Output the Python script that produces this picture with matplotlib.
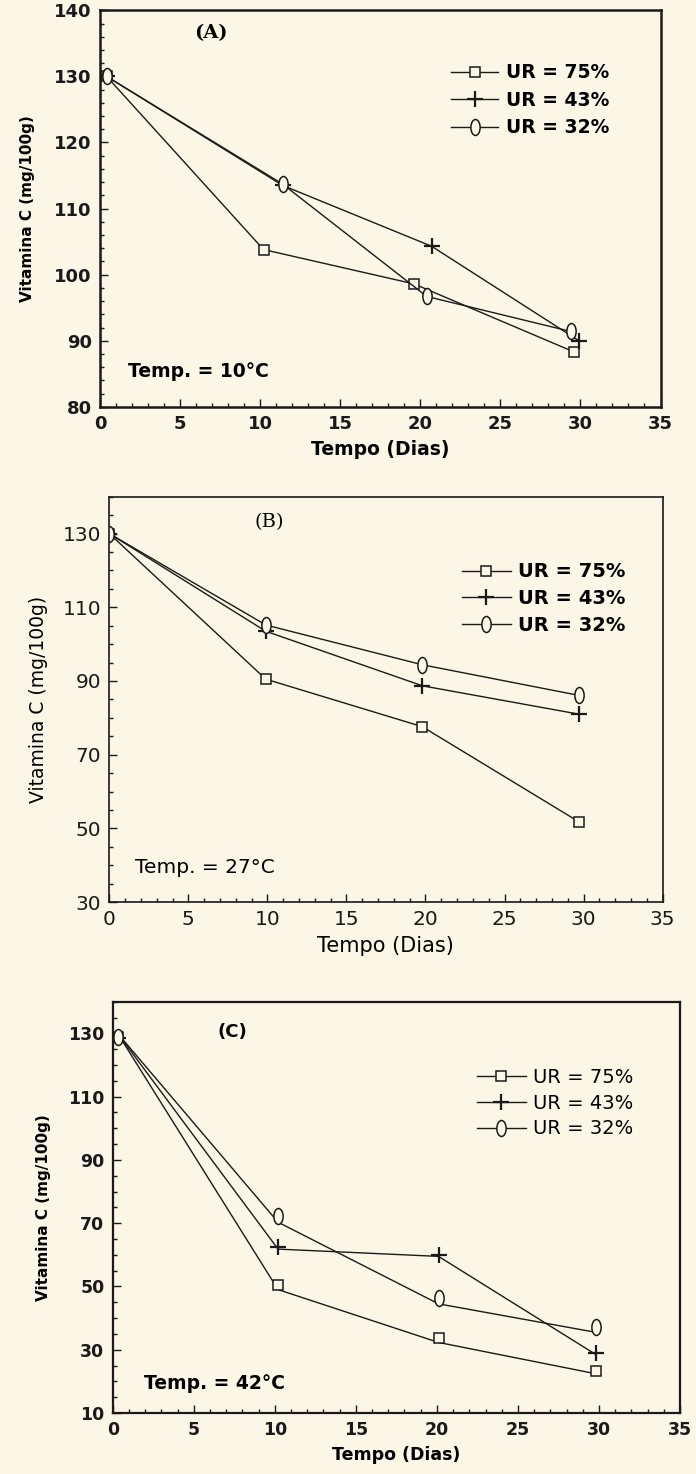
import matplotlib
matplotlib.use("Agg")
import matplotlib.pyplot as plt
from matplotlib.path import Path
from matplotlib.transforms import Affine2D
from matplotlib.ticker import MultipleLocator

# painel A - 10 C
dias_a_75 = [0.4, 10.2, 19.6, 29.6]
vitc_a_75 = [130, 103.8, 98.6, 88.3]
dias_a_43 = [0.4, 11.4, 20.7, 29.9]
vitc_a_43 = [130, 113.5, 104.3, 90.0]
dias_a_32 = [0.4, 11.4, 20.4, 29.4]
vitc_a_32 = [130, 113.7, 96.7, 91.4]

# painel B - 27 C
dias_b = [0, 9.9, 19.8, 29.7]
vitc_b_75 = [130, 90.5, 77.6, 51.8]
vitc_b_43 = [130, 103.5, 88.7, 81.0]
vitc_b_32 = [130, 105.2, 94.4, 86.1]

# painel C - 42 C (markers sit a bit above the drawn curves)
dias_c = [0.3, 10.2, 20.1, 29.8]
vitc_c_75 = [129, 50.6, 33.6, 23.4]
vitc_c_43 = [128.5, 62.6, 60.0, 29.1]
vitc_c_32 = [129, 72.3, 46.3, 37.3]
linha_c_75 = [130, 49.0, 32.3, 22.4]
linha_c_43 = [130, 61.8, 59.5, 28.5]
linha_c_32 = [130, 70.3, 44.5, 35.5]

labels = ["UR = 75%", "UR = 43%", "UR = 32%"]
bg = "#FBF6E5"
ink = "#1a1a1a"

# narrow upright ellipse, like the old plotter's "diamond"
ellipse = Affine2D().scale(0.58, 1.0).transform_path(Path.unit_circle())

fig = plt.figure(figsize=(6.96, 14.74), dpi=100, facecolor=bg)


def style_markers(i):
    if i == 0:
        return dict(marker="s", ms=6.5, mfc=bg, mec=ink, mew=1.1)
    if i == 1:
        return dict(marker="+", ms=11, mec=ink, mew=1.6)
    return dict(marker=ellipse, ms=11.5, mfc=bg, mec=ink, mew=1.1)


def setup_axes(ax, ylim, yticks, yminor, weight, fsize, xlsize, ylsize, lw, ypad):
    ax.set_facecolor(bg)
    ax.set_xlim(0, 35)
    ax.set_ylim(*ylim)
    ax.set_xticks(range(0, 36, 5))
    ax.set_yticks(yticks)
    ax.xaxis.set_minor_locator(MultipleLocator(1))
    ax.yaxis.set_minor_locator(MultipleLocator(yminor))
    ax.tick_params(which="both", direction="in", colors=ink, width=1.0)
    ax.tick_params(which="major", length=6, labelsize=fsize, pad=6)
    ax.tick_params(which="minor", length=3)
    for lab in ax.get_xticklabels() + ax.get_yticklabels():
        lab.set_fontweight(weight)
    for s in ax.spines.values():
        s.set_linewidth(lw)
        s.set_color(ink)
    ax.set_xlabel("Tempo (Dias)", fontsize=xlsize, fontweight=weight, labelpad=5)
    ax.set_ylabel("Vitamina C (mg/100g)", fontsize=ylsize, fontweight=weight, labelpad=ypad)


def add_legend(ax, anchor, size, weight, spacing):
    ax.legend(loc="upper left", bbox_to_anchor=anchor, frameon=False, handlelength=2.5,
              handletextpad=0.4, labelspacing=spacing, borderpad=0, numpoints=1,
              prop={"size": size, "weight": weight})


# ---- A ----
ax_a = fig.add_axes([0.144, 0.724, 0.805, 0.269])
setup_axes(ax_a, (80, 140), range(80, 141, 10), 2, "bold", 13, 13.5, 11, 1.8, 14)
for i, (x, y) in enumerate([(dias_a_75, vitc_a_75), (dias_a_43, vitc_a_43), (dias_a_32, vitc_a_32)]):
    ax_a.plot(x, y, color=ink, lw=1.0, label=labels[i], **style_markers(i))
ax_a.text(6.9, 136.5, "(A)", ha="center", va="center", fontsize=14, fontweight="bold", family="DejaVu Serif")
ax_a.text(1.75, 85.3, "Temp. = 10°C", ha="left", va="center", fontsize=13.5, fontweight="bold")
add_legend(ax_a, (0.61, 0.89), 13.5, "bold", 0.45)

# ---- B ----
ax_b = fig.add_axes([0.157, 0.388, 0.795, 0.275])
setup_axes(ax_b, (30, 140), range(30, 131, 20), 5, "normal", 14.5, 15, 13.5, 1.2, 10)
for i, y in enumerate([vitc_b_75, vitc_b_43, vitc_b_32]):
    ax_b.plot(dias_b, y, color=ink, lw=1.0, label=labels[i], **style_markers(i))
ax_b.text(10.1, 133, "(B)", ha="center", va="center", fontsize=14, family="DejaVu Serif")
ax_b.text(1.6, 39.5, "Temp. = 27°C", ha="left", va="center", fontsize=14.5)
add_legend(ax_b, (0.62, 0.862), 14, "bold", 0.4)

# ---- C ----
ax_c = fig.add_axes([0.162, 0.0414, 0.815, 0.279])
setup_axes(ax_c, (10, 140), range(10, 131, 20), 5, "bold", 12.5, 12.5, 11, 1.6, 12)
for i, (y, yl) in enumerate([(vitc_c_75, linha_c_75), (vitc_c_43, linha_c_43), (vitc_c_32, linha_c_32)]):
    ax_c.plot(dias_c, yl, color=ink, lw=1.0)
    ax_c.plot(dias_c, y, color=ink, lw=1.0, ls="none", **style_markers(i))
    ax_c.plot([], [], color=ink, lw=1.0, label=labels[i], **style_markers(i))
ax_c.text(7.4, 130.5, "(C)", ha="center", va="center", fontsize=13, fontweight="bold")
ax_c.text(1.9, 19.4, "Temp. = 42°C", ha="left", va="center", fontsize=13.5, fontweight="bold")
add_legend(ax_c, (0.625, 0.862), 14, "normal", 0.34)

fig.savefig("out.png", dpi=100, facecolor=bg)
